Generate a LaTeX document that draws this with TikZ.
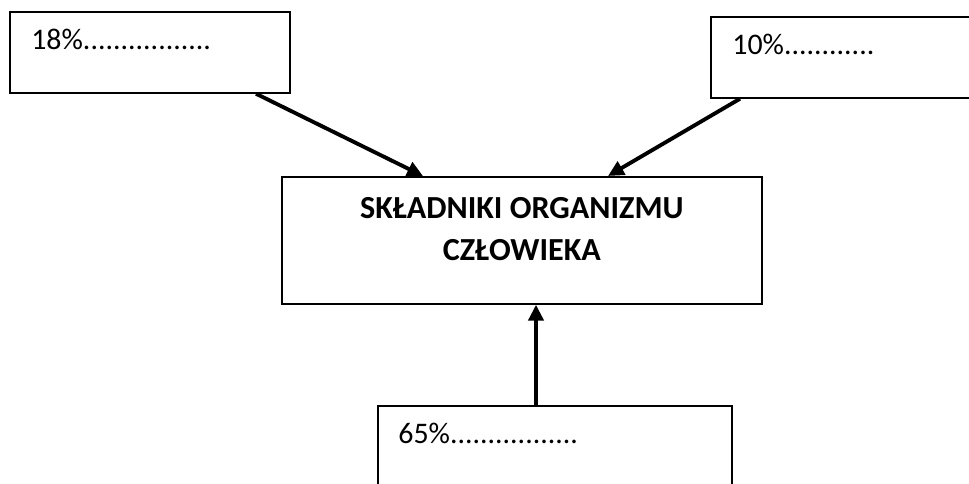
\documentclass[tikz,border=0pt]{standalone}
\usepackage{fontspec}
\setmainfont{Carlito}
\usetikzlibrary{arrows.meta}

\begin{document}
\begin{tikzpicture}[x=0.02cm, y=0.02cm,
	every node/.style={font=\fontsize{17}{24}\selectfont},
	>={Triangle[length=9pt, width=8.5pt]},
	pbox/.style={draw, line width=1pt, inner sep=0pt, anchor=north west},
	pct/.style={anchor=base west, inner sep=0pt},
	link/.style={->, line width=2.2pt}]
	\useasboundingbox (0,0) rectangle (969,483);
	\clip (0,0) rectangle (969,483);
	\node[pbox, minimum width=5.6cm, minimum height=1.62cm] (p18) at (9,472) {};
	\node[pct] (p18txt) at ([shift={(22,-39)}]p18.north west) {18\%.................};
	\node[pbox, minimum width=5.6cm, minimum height=1.62cm] (p10) at (710,467) {};
	\node[pct] (p10txt) at ([shift={(22,-39)}]p10.north west) {10\%............};
	\node[pbox, minimum width=9.6cm, minimum height=2.54cm] (core) at (281,307) {};
	\node[anchor=north, inner sep=0pt, align=center, font=\fontsize{18.3}{24}\selectfont\bfseries] (coretxt) at ([shift={(0,-21)}]core.north) {SKŁADNIKI ORGANIZMU\\CZŁOWIEKA};
	\node[pbox, minimum width=7.08cm, minimum height=1.8cm] (p65) at (377,78) {};
	\node[pct] (p65txt) at ([shift={(21,-38)}]p65.north west) {65\%.................};
	\draw[link] ([shift={(247,0)}]p18.south west) -- ([shift={(142,0)}]core.north west);
	\draw[link] ([shift={(30,0)}]p10.south west) -- ([shift={(327,0)}]core.north west);
	\draw[link] ([shift={(159,0)}]p65.north west) -- ([shift={(255,0)}]core.south west);
\end{tikzpicture}
\end{document}
